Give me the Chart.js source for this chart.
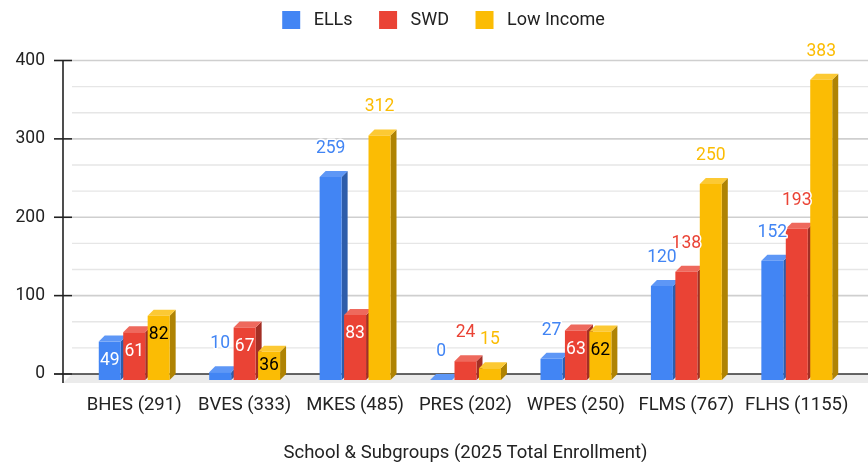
<!DOCTYPE html>
<html>
<head>
<meta charset="utf-8">
<style>
  html, body { margin: 0; padding: 0; background: #fff; }
  canvas { display: block; }
</style>
<script src="https://cdn.jsdelivr.net/npm/chart.js@4"></script>
</head>
<body>
<canvas id="chart" width="868" height="462"></canvas>
<script>
const schools = ['BHES (291)', 'BVES (333)', 'MKES (485)', 'PRES (202)', 'WPES (250)', 'FLMS (767)', 'FLHS (1155)'];
const ells = [49, 10, 259, 0, 27, 120, 152];
const swd = [61, 67, 83, 24, 63, 138, 193];
const lowIncome = [82, 36, 312, 15, 62, 250, 383];

const FONT = 'Roboto, sans-serif';
const DEPTH = 6;

// front, top and side colours of the fake 3d bars
const faces = [
    { front: '#4285f4', top: '#5e97f6', side: '#2e5daa', inside: '#ffffff' },
    { front: '#ea4335', top: '#ee695d', side: '#a32f25', inside: '#ffffff' },
    { front: '#fbbc04', top: '#fcc934', side: '#af8303', inside: '#000000' }
];

const poly = (ctx, color, pts) => {
    ctx.fillStyle = color;
    ctx.beginPath();
    pts.forEach(([x, y], i) => (i ? ctx.lineTo(x, y) : ctx.moveTo(x, y)));
    ctx.closePath();
    ctx.fill();
};

const line = (ctx, color, width, x1, y1, x2, y2) => {
    ctx.strokeStyle = color;
    ctx.lineWidth = width;
    ctx.beginPath();
    ctx.moveTo(x1, y1);
    ctx.lineTo(x2, y2);
    ctx.stroke();
};

const backdrop = {
    id: 'backdrop',
    afterLayout(chart) {
        // legend is centred a bit right of the page, and higher than its padding allows
        chart.legend.left += 17.5;
        chart.legend.right += 17.5;
        chart.legend.top = -15.5;
    },
    beforeDatasetsDraw(chart) {
        const { ctx, scales: { y } } = chart;
        const zero = y.getPixelForValue(0);
        ctx.save();
        poly(ctx, '#ebebeb', [[72, zero], [868, zero], [868, zero + 9], [63, zero + 9]]);
        y.ticks.forEach((tick, i) => {
            const py = y.getPixelForValue(tick.value);
            if (tick.value > 0) line(ctx, '#cfcfcf', 1.6, 72, py, 868, py);
            if (i < y.ticks.length - 1) {
                [1, 2].forEach(n => {
                    const my = y.getPixelForValue(tick.value + n * 100 / 3);
                    line(ctx, '#e6e6e6', 1.4, 72, my, 868, my);
                });
            }
            line(ctx, '#222', 1.6, 54, py, 72, py);
        });
        line(ctx, '#333', 1.6, 54, zero, 868, zero);
        line(ctx, '#222', 1.6, 63, y.top, 63, zero + 9);
        ctx.restore();

        // chart.js paints the last dataset first; here the later series must cover the earlier sides
        chart.data.datasets.forEach((ds, d) => {
            const meta = chart.getDatasetMeta(d);
            const face = faces[d];
            ctx.save();
            meta.data.forEach(bar => {
                const left = bar.x - bar.width / 2;
                const right = bar.x + bar.width / 2;
                poly(ctx, face.side, [[right, bar.y + DEPTH], [right + DEPTH, bar.y], [right + DEPTH, bar.base], [right, bar.base + DEPTH]]);
                poly(ctx, face.top, [[left, bar.y + DEPTH], [left + DEPTH, bar.y], [right + DEPTH, bar.y], [right, bar.y + DEPTH]]);
            });
            // the front face sits one depth step below its value
            ctx.translate(0, DEPTH);
            meta.controller.draw();
            ctx.restore();
        });
    },
    beforeDatasetDraw() {
        return false;
    },
    afterDatasetsDraw(chart) {
        const { ctx } = chart;
        ctx.save();
        ctx.font = '17.5px ' + FONT;
        ctx.textAlign = 'center';
        ctx.textBaseline = 'middle';
        ctx.lineJoin = 'round';
        [0, 1, 2].forEach(d => {
            const face = faces[d];
            chart.getDatasetMeta(d).data.forEach((bar, i) => {
                const value = chart.data.datasets[d].data[i];
                const inside = value >= 30 && value <= 100;
                let y = bar.y - 22.5;
                if (inside) y = Math.min(bar.y + 25, (bar.y + DEPTH + bar.base + DEPTH) / 2);
                ctx.lineWidth = 3;
                ctx.strokeStyle = inside ? face.front : '#ffffff';
                ctx.strokeText(value, bar.x, y);
                ctx.fillStyle = inside ? face.inside : face.front;
                ctx.fillText(value, bar.x, y);
            });
        });
        ctx.restore();
    }
};

new Chart(document.getElementById('chart'), {
    type: 'bar',
    data: {
        labels: schools,
        datasets: [
            { label: 'ELLs', data: ells, backgroundColor: faces[0].front },
            { label: 'SWD', data: swd, backgroundColor: faces[1].front },
            { label: 'Low Income', data: lowIncome, backgroundColor: faces[2].front }
        ]
    },
    plugins: [backdrop],
    options: {
        responsive: false,
        animation: false,
        categoryPercentage: 0.664,
        barPercentage: 0.9,
        layout: { padding: { top: 6, right: 16, bottom: 0, left: 0 } },
        scales: {
            x: {
                grid: { display: false },
                border: { display: false },
                ticks: { color: '#222', font: { family: FONT, size: 18.5 }, padding: 12, maxRotation: 0, autoSkip: false },
                title: { display: true, text: 'School & Subgroups (2025 Total Enrollment)', color: '#222', font: { family: FONT, size: 18.5 }, padding: { top: 19, bottom: -2 } },
                afterFit: s => { s.height = 88; }
            },
            y: {
                min: 0,
                max: 400,
                grid: { display: false },
                border: { display: false },
                ticks: { stepSize: 100, color: '#222', font: { family: FONT, size: 17.5 }, padding: 26 },
                afterFit: s => { s.width = 79; }
            }
        },
        plugins: {
            tooltip: { enabled: false },
            legend: {
                position: 'top',
                labels: {
                    boxWidth: 18,
                    boxHeight: 18,
                    padding: 26.5,
                    color: '#222',
                    font: { family: FONT, size: 18 },
                    // the gap between swatch and text is wider than chart.js gives
                    generateLabels: chart => Chart.defaults.plugins.legend.labels.generateLabels(chart)
                        .map(item => ({ ...item, text: ' ' + item.text, lineWidth: 0 }))
                }
            }
        }
    }
});
</script>
</body>
</html>
